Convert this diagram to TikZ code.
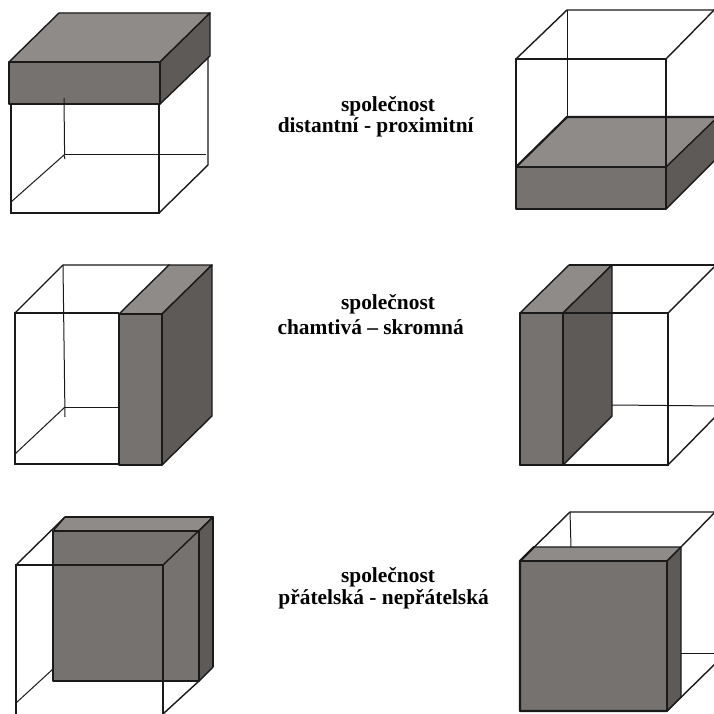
\documentclass[tikz,border=0pt]{standalone}
\usepackage{fontspec}
\setmainfont{Liberation Serif}
\definecolor{topf}{HTML}{8F8B89}
\definecolor{frontf}{HTML}{767270}
\definecolor{sidef}{HTML}{5E5A58}
\definecolor{ink}{HTML}{1A1A1A}
\tikzset{
  wire/.style={draw=ink,line width=1.4pt,line join=miter},
  wirethin/.style={draw=ink,line width=1.0pt},
  topface/.style={fill=topf,draw=ink,line width=1.4pt,line join=round},
  frontface/.style={fill=frontf,draw=ink,line width=1.4pt,line join=round},
  sideface/.style={fill=sidef,draw=ink,line width=1.4pt,line join=round},
  heavy/.style={draw=ink,line width=2.2pt,line join=round},
  caption/.style={anchor=base,font=\bfseries\fontsize{21.4}{24}\selectfont,inner sep=0pt}
}
\begin{document}
\begin{tikzpicture}[x=1pt,y=-1pt]
\useasboundingbox (0,0) rectangle (714,714);
\clip (0,0) rectangle (714,714);
\fill[white] (0,0) rectangle (714,714);

% --- box 1: lid at the top
\draw[wirethin] (64,155) -- (65,159);
\draw[wirethin] (64,155) -- (206,155);
\draw[wirethin] (64,155) -- (11,202);
\draw[wire] (11,104) -- (11,213) -- (159,213) -- (159,104);
\draw[wire] (159,213) -- (208,165) -- (208,56);
\path[topface] (9,62) -- (59,13) -- (210,13) -- (160,62) -- cycle;
\path[sideface] (160,62) -- (210,13) -- (210,56) -- (160,104) -- cycle;
\path[frontface] (9,62) -- (160,62) -- (160,104) -- (9,104) -- cycle;
\draw[wirethin] (64,98) -- (64.6,155);

% --- box 2: slab at the bottom
\path[topface,draw=none] (516,167) -- (567,117) -- (730,117) -- (666,167) -- cycle;
\path[sideface] (666,167) -- (730,105) -- (730,145) -- (666,209) -- cycle;
\path[frontface] (516,167) -- (666,167) -- (666,209) -- (516,209) -- cycle;
\draw[heavy] (516,167) -- (567,117) -- (720,117);
\draw[wire] (516,167) -- (516,59) -- (666,59) -- (666,167);
\draw[wire] (516,59) -- (567,10) -- (720,10);
\draw[wire] (666,59) -- (720,4);
\draw[wirethin] (567,10) -- (567,117);
\draw[heavy] (516,209) -- (666,209);
\draw[heavy] (516,167) -- (666,167);

% --- box 3: slab on the right
\draw[wirethin] (63,265) -- (65,417);
\draw[wirethin] (65,407) -- (119,407);
\draw[wirethin] (65,407) -- (15,454);
\draw[wire] (119,464) -- (15,464) -- (15,313) -- (119,313);
\draw[wire] (15,313) -- (63,265) -- (170,265);
\path[topface] (119,314) -- (169,265) -- (212,265) -- (162,314) -- cycle;
\path[sideface] (162,314) -- (212,265) -- (212,416) -- (162,465) -- cycle;
\path[frontface] (119,314) -- (162,314) -- (162,465) -- (119,465) -- cycle;

% --- box 4: slab on the left
\draw[wirethin] (612,405) -- (720,406);
\draw[wire] (563,465) -- (668,465) -- (668,313) -- (563,313);
\draw[wire] (612,265) -- (720,265);
\draw[wire] (668,313) -- (720,261);
\draw[wire] (668,465) -- (720,412);
\path[topface] (520,313) -- (569,265) -- (612,265) -- (563,313) -- cycle;
\path[sideface] (563,313) -- (612,265) -- (612,416) -- (563,465) -- cycle;
\path[frontface] (520,313) -- (563,313) -- (563,465) -- (520,465) -- cycle;
\draw[wire] (563,313) -- (668,313);
\draw[heavy] (520,313) -- (520,465) -- (563,465);
\draw[heavy] (569,265) -- (612,265);

% --- box 5: slab at the back
\draw[wirethin] (16,703) -- (53,669);
\path[topface] (53,531) -- (65,517) -- (213,517) -- (199,531) -- cycle;
\path[sideface] (199,531) -- (213,517) -- (213,667) -- (199,681) -- cycle;
\path[frontface] (53,531) -- (199,531) -- (199,681) -- (53,681) -- cycle;
\draw[heavy] (65,517) -- (213,517) -- (213,667);
\draw[wire] (16,720) -- (16,565) -- (163,565) -- (163,720);
\draw[wire] (16,565) -- (65,517);
\draw[wire] (163,565) -- (213,517);
\draw[wire] (163,714) -- (199,681);

% --- box 6: slab at the front
\draw[wirethin] (570,512) -- (571,547);
\draw[wirethin] (681,653) -- (720,653);
\draw[wire] (520,561) -- (570,512) -- (720,512);
\draw[wire] (681,547) -- (720,507);
\draw[wire] (667,711) -- (720,659);
\path[topface] (520,561) -- (534,547) -- (681,547) -- (667,561) -- cycle;
\path[sideface] (667,561) -- (681,547) -- (681,697) -- (667,711) -- cycle;
\path[frontface] (520,561) -- (667,561) -- (667,711) -- (520,711) -- cycle;
\draw[heavy] (534,547) -- (520,561) -- (520,711) -- (667,711);

% --- captions
\node[caption] (cap1a) at (388,111.7) {společnost};
\node[caption] (cap1b) at (375.7,133) {distantní - proximitní};
\node[caption] (cap2a) at (388,309) {společnost};
\node[caption] (cap2b) at (370.7,334) {chamtivá – skromná};
\node[caption] (cap3a) at (388,582) {společnost};
\node[caption] (cap3b) at (383.7,604) {přátelská - nepřátelská};
\end{tikzpicture}
\end{document}
